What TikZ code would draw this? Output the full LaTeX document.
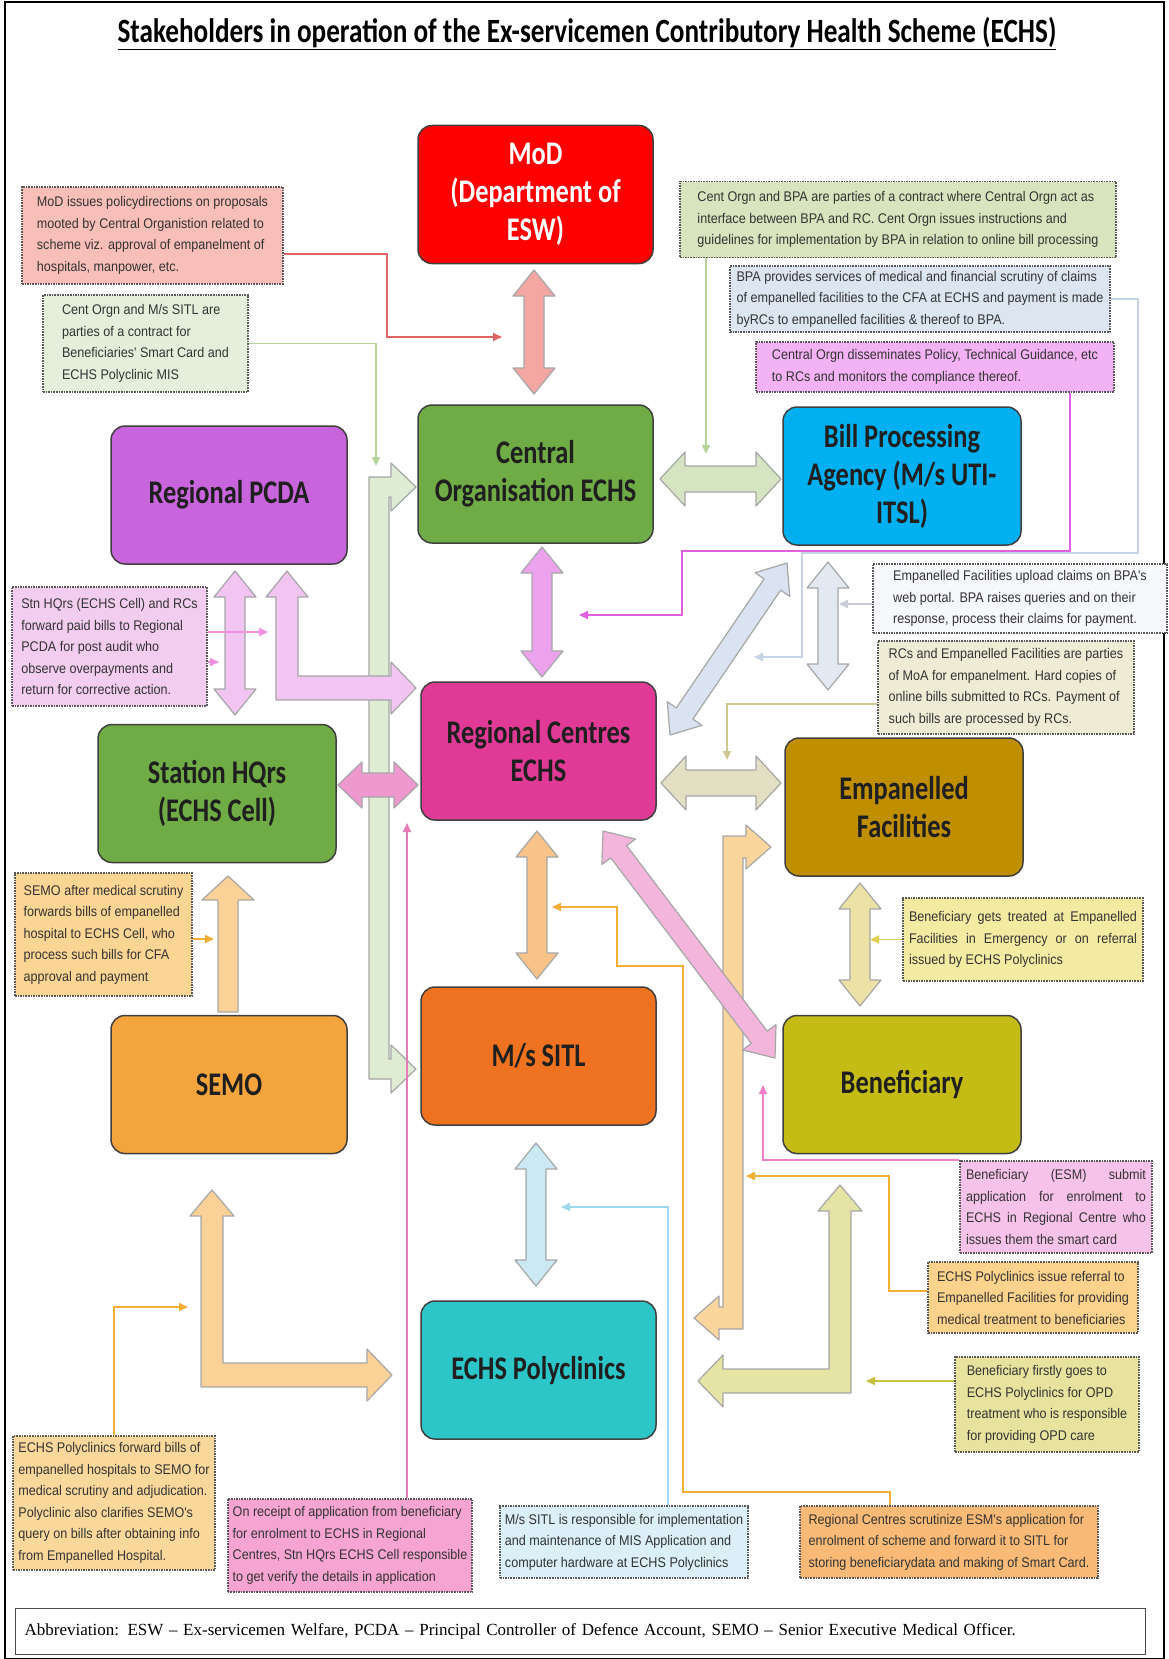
\documentclass[tikz,border=0pt]{standalone}
\usepackage{fontspec}
\usetikzlibrary{arrows.meta,calc}
\newfontfamily\notefont[FakeStretch=0.9]{Liberation Sans}
\newfontfamily\boxfont[FakeStretch=0.8]{Carlito}
\newfontfamily\titlefont[FakeStretch=0.8]{Carlito}
\newfontfamily\abbfont{Liberation Serif}
% main boxes
\definecolor{cMoD}{HTML}{FF0000}\definecolor{cCO}{HTML}{6FAC46}\definecolor{cBPA}{HTML}{00B0F0}
\definecolor{cPCDA}{HTML}{C864DC}\definecolor{cRC}{HTML}{E03A96}\definecolor{cSHQ}{HTML}{6FAC46}
\definecolor{cEF}{HTML}{BF8F00}\definecolor{cSEMO}{HTML}{F4A43C}\definecolor{cSITL}{HTML}{EE7220}
\definecolor{cBen}{HTML}{C4BC14}\definecolor{cPoly}{HTML}{2CC5C8}
% notes
\definecolor{nA}{HTML}{F8BEB8}\definecolor{nB}{HTML}{E3EFDA}\definecolor{nC}{HTML}{D7E4BD}
\definecolor{nD}{HTML}{DCE6F1}\definecolor{nE}{HTML}{F3B2F3}\definecolor{nF}{HTML}{F6F8FB}
\definecolor{nG}{HTML}{EEECD5}\definecolor{nH}{HTML}{F2CDF0}\definecolor{nI}{HTML}{FBD594}
\definecolor{nJ}{HTML}{F4EBA3}\definecolor{nK}{HTML}{F6C2EA}\definecolor{nL}{HTML}{FCD28C}
\definecolor{nM}{HTML}{E7E39E}\definecolor{nN}{HTML}{FAD89C}\definecolor{nO}{HTML}{F6A4D2}
\definecolor{nP}{HTML}{DAEFF7}\definecolor{nQ}{HTML}{F8BA76}
% block arrows
\definecolor{aA}{HTML}{F4A7A2}\definecolor{aB}{HTML}{D5E5C2}\definecolor{aC}{HTML}{EDA2ED}
\definecolor{aD}{HTML}{F1C4F1}\definecolor{aF}{HTML}{EF98CF}\definecolor{aG}{HTML}{DFECD4}
\definecolor{aH}{HTML}{D9E3F1}\definecolor{aI}{HTML}{E3E9F2}\definecolor{aJ}{HTML}{E3DFC2}
\definecolor{aK}{HTML}{ECE2A6}\definecolor{aL}{HTML}{F4B5DC}\definecolor{aM}{HTML}{F7C389}
\definecolor{aN}{HTML}{CBE9F5}\definecolor{aO}{HTML}{FAD197}\definecolor{aQ}{HTML}{FAD69C}
\definecolor{aR}{HTML}{E6E4A4}
% thin connectors
\definecolor{lRed}{HTML}{E06666}\definecolor{lGreen}{HTML}{B4D49C}\definecolor{lBlue}{HTML}{C5D3E6}
\definecolor{lMag}{HTML}{E060E0}\definecolor{lGray}{HTML}{C8CCD4}\definecolor{lOlive}{HTML}{CFC890}
\definecolor{lPink}{HTML}{F090E0}\definecolor{lOrange}{HTML}{F2AE35}\definecolor{lYellow}{HTML}{E2D050}
\definecolor{lPinkB}{HTML}{EE7FC8}\definecolor{lOliveB}{HTML}{C8C040}\definecolor{lPinkC}{HTML}{E67BB6}
\definecolor{lCyan}{HTML}{9FD8EE}
\tikzset{
  mainbox/.style={rectangle, rounded corners=14pt, draw=black!75, line width=1.5pt,
    minimum width=235pt, minimum height=138pt, align=center, text=black!88, inner sep=2pt,
    font=\boxfont\bfseries\fontsize{33}{38}\selectfont},
  note/.style={rectangle, draw=black!65, densely dotted, line width=1.6pt, align=left,
    inner sep=5pt, text=black!80, font=\notefont\fontsize{14}{21.5}\selectfont},
  barrow/.style={draw=black!35, line width=1.2pt, line join=round},
  conn/.style={line width=1.8pt, -{Triangle[length=9pt,width=8pt]}},
}
% horizontal double block arrow: colour, y, x1, x2, shaft half, head half, head length
\newcommand\hdblarr[7]{\filldraw[barrow,fill=#1] (#3,#2) -- ({#3+#7},{#2-#6}) -- ({#3+#7},{#2-#5}) -- ({#4-#7},{#2-#5}) -- ({#4-#7},{#2-#6}) -- (#4,#2) -- ({#4-#7},{#2+#6}) -- ({#4-#7},{#2+#5}) -- ({#3+#7},{#2+#5}) -- ({#3+#7},{#2+#6}) -- cycle;}
% vertical double block arrow: colour, x, y1, y2, shaft half, head half, head length
\newcommand\vdblarr[7]{\filldraw[barrow,fill=#1] (#2,#3) -- ({#2+#6},{#3+#7}) -- ({#2+#5},{#3+#7}) -- ({#2+#5},{#4-#7}) -- ({#2+#6},{#4-#7}) -- (#2,#4) -- ({#2-#6},{#4-#7}) -- ({#2-#5},{#4-#7}) -- ({#2-#5},{#3+#7}) -- ({#2-#6},{#3+#7}) -- cycle;}
\begin{document}
\begin{tikzpicture}[x=1pt,y=-1pt]
\useasboundingbox (0,0) rectangle (1168,1659);
\fill[white] (0,0) rectangle (1168,1659);
\draw[line width=2pt] (5,2) rectangle (1164,1659);

\node[font=\titlefont\bfseries\fontsize{34}{40}\selectfont] (title) at (587,34)
  {\underline{Stakeholders in operation of the Ex-servicemen Contributory Health Scheme (ECHS)}};

% ---------- block arrows ----------
\filldraw[barrow,fill=aG] (416,487) -- (391,463) -- (391,477) -- (369,477) -- (369,1079) -- (391,1079) -- (391,1093) -- (416,1069) -- (391,1045) -- (391,1059) -- (389,1059) -- (389,497) -- (391,497) -- (391,511) -- cycle;
\vdblarr{aA}{534}{270}{394}{10}{21}{26}
\hdblarr{aB}{479}{660}{781}{13}{27}{25}
\vdblarr{aC}{542}{547}{677}{10}{21}{26}
\vdblarr{aD}{235}{571}{715}{10}{21}{26}
\filldraw[barrow,fill=aD] (287,571) -- (308,597) -- (298,597) -- (298,676) -- (391,676) -- (391,662) -- (416,688) -- (391,714) -- (391,700) -- (276,700) -- (276,597) -- (266,597) -- cycle;
\hdblarr{aF}{785}{338}{418}{12}{23}{24}
\begin{scope}[shift={(670,735)}, rotate=55.77]
  \hdblarr{aH}{0}{0}{208}{10}{21}{26}
\end{scope}
\vdblarr{aI}{828}{562}{690}{10}{21}{26}
\hdblarr{aJ}{783}{661}{781}{13}{27}{25}
\vdblarr{aK}{860}{883}{1006}{10}{21}{26}
\filldraw[barrow,fill=aQ] (771,847) -- (746,869) -- (746,858) -- (743,858) -- (743,1329) -- (719,1329) -- (719,1340) -- (694,1318) -- (719,1296) -- (719,1307) -- (723,1307) -- (723,836) -- (746,836) -- (746,825) -- cycle;
\begin{scope}[shift={(603,831)}, rotate=-52.85]
  \hdblarr{aL}{0}{0}{284.8}{10}{21}{26}
\end{scope}
\vdblarr{aM}{537}{831}{979}{10}{21}{26}
\vdblarr{aN}{536}{1143}{1286}{10}{21}{26}
\filldraw[barrow,fill=aO] (228,876) -- (254,900) -- (238,900) -- (238,1012) -- (218,1012) -- (218,900) -- (202,900) -- cycle;
\filldraw[barrow,fill=aO] (212,1190) -- (234,1216) -- (223,1216) -- (223,1363) -- (367,1363) -- (367,1349) -- (392,1375) -- (367,1401) -- (367,1387) -- (201,1387) -- (201,1216) -- (190,1216) -- cycle;
\filldraw[barrow,fill=aR] (840,1185) -- (862,1211) -- (851,1211) -- (851,1393) -- (723,1393) -- (723,1407) -- (698,1381) -- (723,1355) -- (723,1369) -- (829,1369) -- (829,1211) -- (818,1211) -- cycle;

% ---------- main boxes ----------
\node[mainbox, fill=cMoD, text=white] (mod) at (535.5,194.5) {MoD\\(Department of\\ESW)};
\node[mainbox, fill=cCO] (co) at (535.5,474) {Central\\Organisation ECHS};
\node[mainbox, fill=cBPA, minimum width=238pt] (bpa) at (902,476) {Bill Processing\\Agency (M/s UTI-\\ITSL)};
\node[mainbox, fill=cPCDA, minimum width=236pt] (pcda) at (229,495) {Regional PCDA};
\node[mainbox, fill=cRC] (rc) at (538.5,751) {Regional Centres\\ECHS};
\node[mainbox, fill=cSHQ, minimum width=238pt] (shq) at (217,793.5) {Station HQrs\\(ECHS Cell)};
\node[mainbox, fill=cEF, minimum width=238pt] (ef) at (904,807) {Empanelled\\Facilities};
\node[mainbox, fill=cSEMO, minimum width=236pt] (semo) at (229,1084.5) {SEMO};
\node[mainbox, fill=cSITL] (sitl) at (538.5,1056) {M/s SITL};
\node[mainbox, fill=cBen, minimum width=238pt] (ben) at (902,1084.5) {Beneficiary};
\node[mainbox, fill=cPoly] (poly) at (538.5,1370) {ECHS Polyclinics};

% ---------- notes ----------
\node[note, fill=nA, minimum width=261pt, minimum height=97pt] (n1) at (152.5,235.5)
  {MoD issues policydirections on proposals\\mooted by Central Organistion related to\\scheme viz. approval of empanelment of\\hospitals, manpower, etc.};
\node[note, fill=nB, minimum width=205pt, minimum height=97pt] (n2) at (145.5,343.5)
  {Cent Orgn and M/s SITL are\\parties of a contract for\\Beneficiaries' Smart Card and\\ECHS Polyclinic MIS};
\node[note, fill=nC, minimum width=436pt, minimum height=76pt] (n3) at (898,219.5)
  {Cent Orgn and BPA are parties of a contract where Central Orgn act as\\interface between BPA and RC. Cent Orgn issues instructions and\\guidelines for implementation by BPA in relation to online bill processing};
\node[note, fill=nD, minimum width=380pt, minimum height=64pt] (n4) at (920,299)
  {BPA provides services of medical and financial scrutiny of claims\\of empanelled facilities to the CFA at ECHS and payment is made\\byRCs to empanelled facilities \& thereof to BPA.};
\node[note, fill=nE, minimum width=358pt, minimum height=50pt] (n5) at (935,367)
  {Central Orgn disseminates Policy, Technical Guidance, etc\\to RCs and monitors the compliance thereof.};
\node[note, fill=nF, minimum width=294pt, minimum height=69pt] (n6) at (1020,598.5)
  {Empanelled Facilities upload claims on BPA's\\web portal. BPA raises queries and on their\\response, process their claims for payment.};
\node[note, fill=nG, minimum width=256pt, minimum height=93pt] (n7) at (1006,687.5)
  {RCs and Empanelled Facilities are parties\\of MoA for empanelment. Hard copies of\\online bills submitted to RCs. Payment of\\such bills are processed by RCs.};
\node[note, fill=nH, minimum width=195pt, minimum height=119pt] (n8) at (109.5,646.5)
  {Stn HQrs (ECHS Cell) and RCs\\forward paid bills to Regional\\PCDA for post audit who\\observe overpayments and\\return for corrective action.};
\node[note, fill=nI, minimum width=177pt, minimum height=123pt] (n9) at (103.5,934.5)
  {SEMO after medical scrutiny\\forwards bills of empanelled\\hospital to ECHS Cell, who\\process such bills for CFA\\approval and payment};
\node[note, fill=nJ, minimum width=240pt, minimum height=83pt] (n10) at (1023,939.5)
  {\makebox[228pt][s]{Beneficiary gets treated at Empanelled}\\\makebox[228pt][s]{Facilities in Emergency or on referral}\\issued by ECHS Polyclinics};
\node[note, fill=nK, minimum width=192pt, minimum height=92pt] (n11) at (1056,1207)
  {\makebox[180pt][s]{Beneficiary (ESM) submit}\\\makebox[180pt][s]{application for enrolment to}\\\makebox[180pt][s]{ECHS in Regional Centre who}\\issues them the smart card};
\node[note, fill=nL, minimum width=210pt, minimum height=71pt] (n12) at (1033,1297.5)
  {ECHS Polyclinics issue referral to\\Empanelled Facilities for providing\\medical treatment to beneficiaries};
\node[note, fill=nM, minimum width=184pt, minimum height=95pt] (n13) at (1047,1404.5)
  {Beneficiary firstly goes to\\ECHS Polyclinics for OPD\\treatment who is responsible\\for providing OPD care};
\node[note, fill=nN, minimum width=202pt, minimum height=134pt] (n14) at (114,1503)
  {ECHS Polyclinics forward bills of\\empanelled hospitals to SEMO for\\medical scrutiny and adjudication.\\Polyclinic also clarifies SEMO's\\query on bills after obtaining info\\from Empanelled Hospital.};
\node[note, fill=nO, minimum width=240pt, minimum height=93pt] (n15) at (350,1545.5)
  {On receipt of application from beneficiary\\for enrolment to ECHS in Regional\\Centres, Stn HQrs ECHS Cell responsible\\to get verify the details in application};
\node[note, fill=nP, minimum width=242pt, minimum height=72pt] (n16) at (624,1542)
  {M/s SITL is responsible for implementation\\and maintenance of MIS Application and\\computer hardware at ECHS Polyclinics};
\node[note, fill=nQ, minimum width=298pt, minimum height=72pt] (n17) at (949,1542)
  {Regional Centres scrutinize ESM's application for\\enrolment of scheme and forward it to SITL for\\storing beneficiarydata and making of Smart Card.};

% ---------- thin connectors ----------
\draw[conn, draw=lRed] ([yshift=-18.5pt]n1.east) -| (387,337) -- (502,337);
\draw[conn, draw=lGreen] (n2.east) -| (376,466);
\draw[conn, draw=lGreen] ([xshift=-192pt]n3.south) -- (706,454);
\draw[conn, draw=lBlue] (n4.east) -| (1138,553) -- (802,553) -- (802,657) -- (754,657);
\draw[conn, draw=lMag] ([xshift=135pt]n5.south) |- (682,551) -- (682,615) -- (579,615);
\draw[conn, draw=lGray] ([yshift=-5.5pt]n6.west) -- (839,604);
\draw[conn, draw=lOlive] ([yshift=-16.5pt]n7.west) -| (727,760);
\draw[conn, draw=lPink] ([yshift=14.5pt]n8.east) -- (268,632);
\draw[conn, draw=lPink] ([yshift=-15.5pt]n8.east) -- (219,662);
\draw[conn, draw=lOrange] ([yshift=-4.5pt]n9.east) -- (214,939);
\draw[conn, draw=lYellow] (n10.west) -- (870,939.5);
\draw[conn, draw=lPinkB] (n11.north west) -| (763,1085);
\draw[conn, draw=lOrange] ([yshift=6.5pt]n12.west) -| (889,1176) -- (746,1176);
\draw[conn, draw=lOliveB] ([yshift=23.5pt]n13.west) -- (866,1381);
\draw[conn, draw=lOrange] (n14.north) |- (188,1307);
\draw[conn, draw=lPinkC] ([xshift=57pt]n15.north) -- (407,823);
\draw[conn, draw=lCyan] ([xshift=44pt]n16.north) |- (561,1207);
\draw[conn, draw=lOrange] ([xshift=-59pt]n17.north) -- (890,1492) -- (683,1492) -- (683,966) -- (617,966) -- (617,907) -- (552,907);

% ---------- abbreviation ----------
\node[draw=black!70, line width=1.2pt, anchor=north west, minimum height=46pt, text width=1112pt,
  inner xsep=9pt, align=left, font=\abbfont\fontsize{17}{20}\selectfont] (abb) at (15,1608)
  {Abbreviation: ESW – Ex-servicemen Welfare, PCDA – Principal Controller of Defence Account, SEMO – Senior Executive Medical Officer.};
\end{tikzpicture}
\end{document}
